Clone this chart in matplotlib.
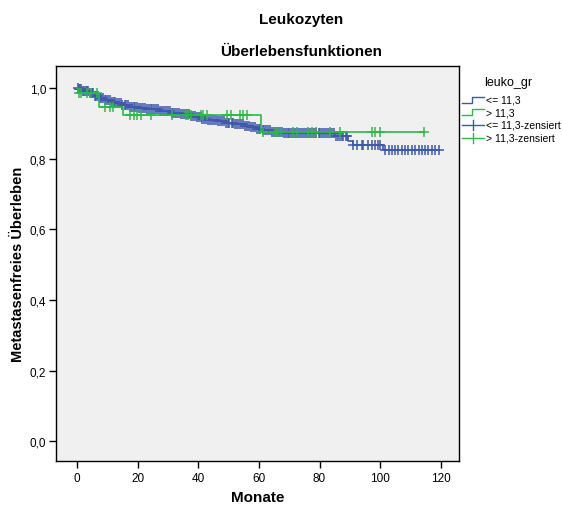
import matplotlib
matplotlib.use("Agg")
import matplotlib.pyplot as plt
from matplotlib.lines import Line2D
import numpy as np

plt.rcParams['font.family'] = ['Liberation Sans', 'DejaVu Sans']

# Kaplan-Meier, Gruppe <= 11,3 (Ereigniszeiten und Überleben danach)
blue_event_t = [0.5, 2, 4, 5.5, 7, 9, 11, 13, 15, 17, 20, 23, 27, 31, 34, 37,
                39, 41, 43, 46, 49, 52, 55, 57, 59, 61, 64, 68, 85, 89.5, 91, 101]
blue_event_s = [0.997, 0.992, 0.986, 0.978, 0.972, 0.966, 0.961, 0.956, 0.951,
                0.947, 0.943, 0.939, 0.934, 0.930, 0.926, 0.921, 0.917, 0.913,
                0.908, 0.905, 0.902, 0.898, 0.893, 0.889, 0.884, 0.880, 0.876,
                0.871, 0.865, 0.851, 0.839, 0.823]
blue_cens = [0.2, 0.6, 1.1, 1.5, 2.0, 2.4, 2.9, 3.3, 3.8, 4.4, 4.9, 5.3, 5.8,
             6.4, 6.9, 7.5, 8.0, 8.6, 9.1, 9.7, 10.2, 10.8, 11.5, 12.1, 12.6,
             13.2, 13.9, 14.4, 15.0, 15.7, 16.3, 16.8, 17.4, 18.1, 18.7, 19.2,
             19.9, 20.5, 21.1, 21.8, 22.4, 23.0, 23.7, 24.3, 24.8, 25.5, 26.1,
             26.8, 27.4, 28.0, 28.7, 29.3, 29.9, 30.6, 31.2, 31.8, 32.5, 33.1,
             33.8, 34.4, 35.0, 35.7, 36.3, 36.9, 37.6, 38.2, 38.9, 39.5, 40.1,
             40.8, 41.4, 42.0, 42.7, 43.3, 44.0, 44.6, 45.2, 45.9, 46.5, 47.1,
             47.8, 48.4, 49.1, 49.7, 50.3, 51.0, 51.6, 52.2, 52.9, 53.5, 54.2,
             54.8, 55.4, 56.1, 56.7, 57.3, 58.0, 58.6, 59.3, 59.9, 60.5, 61.2,
             61.8, 62.4, 63.1, 63.7, 64.4, 65.0, 65.6, 66.3, 66.9, 67.5, 68.2,
             68.8, 69.5, 70.1, 70.7, 71.4, 72.0, 72.6, 73.3, 73.9, 74.6, 75.2,
             75.8, 76.5, 77.1, 77.7, 78.4, 79.0, 79.7, 80.3, 80.9, 81.6, 82.2,
             82.8, 83.5, 84.1, 84.8, 85.4, 86.0, 86.7, 87.3, 87.9, 88.6, 89.2,
             91.2, 92.3, 94.0, 94.5, 96.1, 97.2, 98.3, 99.4, 100.0, 101.7,
             102.8, 103.9, 105.0, 106.0, 107.2, 108.3, 109.3, 110.5, 111.6,
             112.7, 113.8, 114.9, 115.9, 117.0, 118.2, 119.3]

# Gruppe > 11,3
green_event_t = [0.5, 7.4, 15.3, 60.6]
green_event_s = [0.985, 0.945, 0.922, 0.874]
green_cens = [0.7, 1.2, 3.2, 4.5, 6.7, 9.2, 10.9, 12.0, 17.5, 18.8, 19.9, 21.0,
              24.3, 31.2, 36.0, 36.7, 37.5, 40.8, 41.7, 43.0, 49.4, 50.7, 53.8,
              54.9, 56.2, 61.3, 65.3, 65.9, 67.2, 71.4, 72.5, 76.3, 77.4, 79.0,
              83.5, 86.8, 97.3, 98.4, 99.9, 114.3]

blue = '#3E58AC'
green = '#2EB848'


def km_curve(ev_t, ev_s, cens):
    t = np.concatenate([[0.0], ev_t, [max(cens)]])
    s = np.concatenate([[1.0], ev_s, [ev_s[-1]]])
    idx = np.searchsorted(ev_t, cens, side='right')
    cs = np.where(idx == 0, 1.0, np.array(ev_s)[np.maximum(idx - 1, 0)])
    return t, s, cs


fig = plt.figure(figsize=(5.63, 5.06), dpi=100)
ax = fig.add_axes([56 / 563, 1 - 462 / 506, (459 - 56) / 563, (462 - 67) / 506])
ax.set_facecolor('#F0F0F0')

for ev_t, ev_s, cens, col in [(blue_event_t, blue_event_s, blue_cens, blue),
                              (green_event_t, green_event_s, green_cens, green)]:
    t, s, cs = km_curve(ev_t, ev_s, cens)
    ax.step(t, s, where='post', color=col, linewidth=1.2)
    ax.plot(cens, cs, linestyle='none', marker='+', markersize=6.5,
            markeredgewidth=1.1, color=col)

ax.set_xlim(-6.9, 126)
ax.set_ylim(-0.056, 1.062)
ax.set_xticks([0, 20, 40, 60, 80, 100, 120])
ax.set_yticks([0.0, 0.2, 0.4, 0.6, 0.8, 1.0])
ax.set_yticklabels(['0,0', '0,2', '0,4', '0,6', '0,8', '1,0'])
ax.tick_params(labelsize=8.5, length=5, width=1, direction='out')
ax.tick_params(axis='x', pad=3)
ax.tick_params(axis='y', pad=2)
for sp in ax.spines.values():
    sp.set_linewidth(1.0)

ax.set_xlabel('Monate', fontsize=11, fontweight='bold')
ax.set_ylabel('Metastasenfreies Überleben', fontsize=10.5, fontweight='bold')
ax.xaxis.set_label_coords(0.501, -0.091)
ax.yaxis.set_label_coords(-0.094, 0.50)
ax.xaxis.label.set_va('center')
ax.yaxis.label.set_va('center')

fig.text(301 / 563, 1 - 20 / 506, 'Leukozyten', ha='center', va='center',
         fontsize=11, fontweight='bold')
fig.text(301 / 563, 1 - 52 / 506, 'Überlebensfunktionen', ha='center', va='center',
         fontsize=11, fontweight='bold')

# Legende
W, H = 563, 506
fig.text(508 / W, 1 - 83 / H, 'leuko_gr', ha='center', va='center', fontsize=9)
rows = [(101, blue, 'step', '<= 11,3'), (113, green, 'step', '> 11,3'),
        (126, blue, 'plus', '<= 11,3-zensiert'), (139, green, 'plus', '> 11,3-zensiert')]
for y, col, kind, lab in rows:
    if kind == 'step':
        xs = [462, 472, 472, 484]
        ys = [y + 3, y + 3, y - 3, y - 3]
        fig.add_artist(Line2D([v / W for v in xs], [1 - v / H for v in ys],
                              color=col, linewidth=1.0))
    else:
        fig.add_artist(Line2D([462 / W, 484 / W], [1 - y / H, 1 - y / H],
                              color=col, linewidth=1.0))
        fig.add_artist(Line2D([473 / W, 473 / W], [1 - (y - 5) / H, 1 - (y + 5) / H],
                              color=col, linewidth=1.0))
    fig.text(486 / W, 1 - y / H, lab, ha='left', va='center', fontsize=7.5)

fig.savefig('out.png', dpi=100)
